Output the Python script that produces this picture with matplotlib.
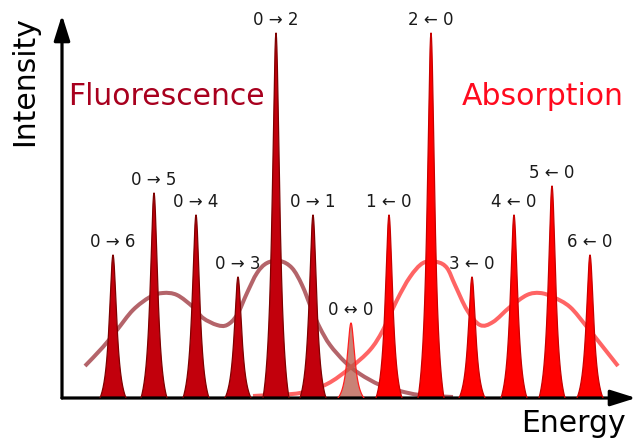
import numpy as np
import matplotlib
matplotlib.use("Agg")
import matplotlib.pyplot as plt
from matplotlib.path import Path
from matplotlib.patches import PathPatch

# vibronic lines, energy and intensity in arbitrary units
fluo_labels = ["0 → 6", "0 → 5", "0 → 4", "0 → 3", "0 → 2", "0 → 1"]
fluo_energy = [51, 92, 134, 176, 214, 251]
fluo_height = [143, 205, 183, 121, 365, 183]

abs_labels = ["1 ← 0", "2 ← 0", "3 ← 0", "4 ← 0", "5 ← 0", "6 ← 0"]
abs_energy = [327, 369, 410, 452, 490, 528]
abs_height = [183, 365, 121, 183, 212, 143]

origin_label = "0 ↔ 0"
origin_energy = 289
origin_height = 75

# broad envelopes
fluo_env_e = [23, 41, 55, 71, 88, 101, 115, 131, 141, 155, 165, 175, 185, 195, 205,
              218, 230, 240, 250, 258, 268, 283, 298, 318, 338, 358, 391]
fluo_env_i = [32, 51, 68, 88, 101, 105, 103, 91, 80, 73, 73, 83, 105, 125, 135,
              137, 130, 113, 88, 70, 53, 36, 24, 13, 7, 3, 1]
abs_env_e = [191, 208, 238, 265, 288, 308, 321, 335, 348, 361, 375, 385, 393, 405,
             418, 431, 448, 465, 478, 491, 508, 525, 541, 556]
abs_env_i = [2, 3, 5, 14, 30, 48, 68, 98, 121, 135, 136, 130, 113, 88,
             73, 76, 91, 103, 105, 101, 91, 71, 51, 32]


def smooth_path(xs, ys):
	# Catmull-Rom through the read points, drawn as cubic Beziers
	p = np.column_stack([xs, ys]).astype(float)
	p = np.vstack([p[0], p, p[-1]])
	verts = [p[1]]
	codes = [Path.MOVETO]
	for i in range(1, len(p) - 2):
		c1 = p[i] + (p[i + 1] - p[i - 1]) / 6
		c2 = p[i + 1] - (p[i + 2] - p[i]) / 6
		verts += [c1, c2, p[i + 1]]
		codes += [Path.CURVE4] * 3
	return Path(verts, codes)


def draw_peak(ax, x0, h, face, edge, alpha=1.0, half=13, g=4.6):
	dx = np.linspace(-half, half, 301)
	c = 1 / (1 + (half / g) ** 2)
	shape = (1 / (1 + (dx / g) ** 2) - c) / (1 - c)
	ax.fill_between(x0 + dx, 0, h * shape, facecolor=face, edgecolor='none', alpha=alpha, zorder=3)
	ax.plot(x0 + dx, h * shape, color=edge, lw=0.9, zorder=4)


fig = plt.figure(figsize=(6.39, 4.40), dpi=100)
ax = fig.add_axes([62 / 639, 42 / 440, 574 / 639, 383 / 440])
ax.set_xlim(0, 574)
ax.set_ylim(0, 383)
ax.axis('off')

ax.add_patch(PathPatch(smooth_path(fluo_env_e, fluo_env_i), facecolor='none',
					   edgecolor='#b4646a', lw=2.9, capstyle='butt', zorder=2))
ax.add_patch(PathPatch(smooth_path(abs_env_e, abs_env_i), facecolor='none',
					   edgecolor='#ff6464', lw=2.9, capstyle='butt', zorder=2))

for lab, e, h in zip(fluo_labels, fluo_energy, fluo_height):
	draw_peak(ax, e, h, '#c2000c', '#7e0000')
	ax.annotate(lab, (e, h), xytext=(0, 3), textcoords='offset points',
				ha='center', va='bottom', fontsize=12, color='#1a1a1a')

for lab, e, h in zip(abs_labels, abs_energy, abs_height):
	draw_peak(ax, e, h, '#ff0000', '#c80000')
	ax.annotate(lab, (e, h), xytext=(0, 3), textcoords='offset points',
				ha='center', va='bottom', fontsize=12, color='#1a1a1a')

draw_peak(ax, origin_energy, origin_height, '#b85848', '#ff2020', alpha=0.75)
ax.annotate(origin_label, (origin_energy, origin_height), xytext=(0, 3),
			textcoords='offset points', ha='center', va='bottom', fontsize=12, color='#1a1a1a')

# axes arrows
arrow = dict(arrowstyle='-|>,head_length=0.7,head_width=0.22', lw=2.3, color='black',
			 mutation_scale=22, shrinkA=0, shrinkB=0)
ax.annotate('', xy=(0, 383), xytext=(0, 0), arrowprops=arrow, annotation_clip=False)
ax.annotate('', xy=(574, 0), xytext=(0, 0), arrowprops=arrow, annotation_clip=False)

ax.text(104, 293, "Fluorescence", ha='center', va='baseline', fontsize=21.5, color='#a8001e')
ax.text(481, 293, "Absorption", ha='center', va='baseline', fontsize=21.5, color='#ff0a1e')

fig.text(25 / 639, 1 - 81 / 440, "Intensity", rotation=90, ha='center', va='center', fontsize=21.5)
fig.text(573 / 639, 1 - 432 / 440, "Energy", ha='center', va='baseline', fontsize=21.5)

fig.savefig("out.png", dpi=100)
plt.close(fig)
